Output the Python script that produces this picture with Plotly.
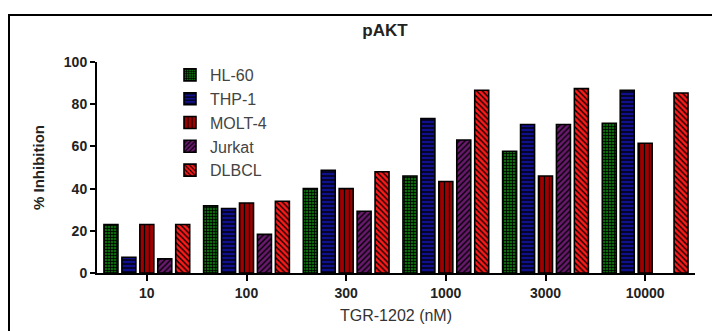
import plotly.graph_objects as go

# Concentrations of TGR-1202 (nM) on the x axis
concentrations = ["10", "100", "300", "1000", "3000", "10000"]

# % inhibition of pAKT per cell line
hl60 = [23, 31.8, 40, 46, 57.7, 71]
thp1 = [7.5, 30.6, 48.7, 73.2, 70.4, 86.6]
molt4 = [23, 33.2, 40, 43.4, 46, 61.5]
jurkat = [6.7, 18.3, 29.3, 63, 70.4, None]
dlbcl = [23, 34, 48, 86.6, 87.4, 85.3]

series = [
    ("HL-60", hl60, "#0a6a0a", "+", 3, 0.45),
    ("THP-1", thp1, "#10108c", "-", 4, 0.35),
    ("MOLT-4", molt4, "#a00000", "|", 5, 0.25),
    ("Jurkat", jurkat, "#6a1a6e", "/", 4, 0.35),
    ("DLBCL", dlbcl, "#ff1a1a", "\\", 4, 0.35),
]

fig = go.Figure()
for name, vals, color, shape, size, solid in series:
    fig.add_trace(go.Bar(
        name=name,
        x=concentrations,
        y=vals,
        marker=dict(
            color=color,
            line=dict(color="black", width=1.6),
            pattern=dict(shape=shape, fgcolor="black", bgcolor=color,
                         size=size, solidity=solid, fillmode="replace"),
        ),
    ))

W, H = 712, 331
L, R, T, B = 97, 17, 62, 58
pw, ph = W - L - R, H - T - B

FONT = "Liberation Sans, Arial, sans-serif"

fig.update_layout(
    width=W, height=H,
    margin=dict(l=L, r=R, t=T, b=B),
    paper_bgcolor="white", plot_bgcolor="white",
    barmode="group", bargap=0.1, bargroupgap=0.22,
    font=dict(family=FONT, color="#222"),
    title=dict(text="<b>pAKT</b>", x=(385 - L) / pw, xref="paper",
               y=1 - 30 / H, yanchor="middle", xanchor="center",
               font=dict(size=17, color="#222")),
    legend=dict(x=(170 - L) / pw, y=1 + (T - 58) / ph, xanchor="left", yanchor="top",
                font=dict(size=16, color="#444"), bgcolor="rgba(0,0,0,0)",
                itemwidth=30),
    showlegend=True,
    # outer frame: starts at pixel (9, 15) and runs past the right and bottom edges
    shapes=[dict(type="rect", xref="paper", yref="paper",
                 x0=(9 - L) / pw, x1=1.2,
                 y0=-0.6, y1=(H - B - 15) / ph,
                 line=dict(color="black", width=2), layer="below")],
)

fig.update_xaxes(
    automargin=False,
    showline=True, linecolor="black", linewidth=2,
    ticks="outside", ticklen=6, tickwidth=2, tickcolor="black",
    tickfont=dict(size=14, color="#222", family=FONT),
    tickprefix="<b>", ticksuffix="</b>",
    title=dict(text="TGR-1202 (nM)", font=dict(size=16, color="#333"), standoff=10),
)
fig.update_yaxes(
    automargin=False,
    range=[0, 100], dtick=20, showgrid=False, zeroline=False,
    showline=True, linecolor="black", linewidth=2,
    ticks="outside", ticklen=5, tickwidth=2, tickcolor="black",
    tickfont=dict(size=14, color="#222"),
    tickprefix="<b>", ticksuffix="</b>",
    title=dict(text="<b>% Inhibition</b>", font=dict(size=15, color="#222"), standoff=16),
)

fig.write_html("out.html")
